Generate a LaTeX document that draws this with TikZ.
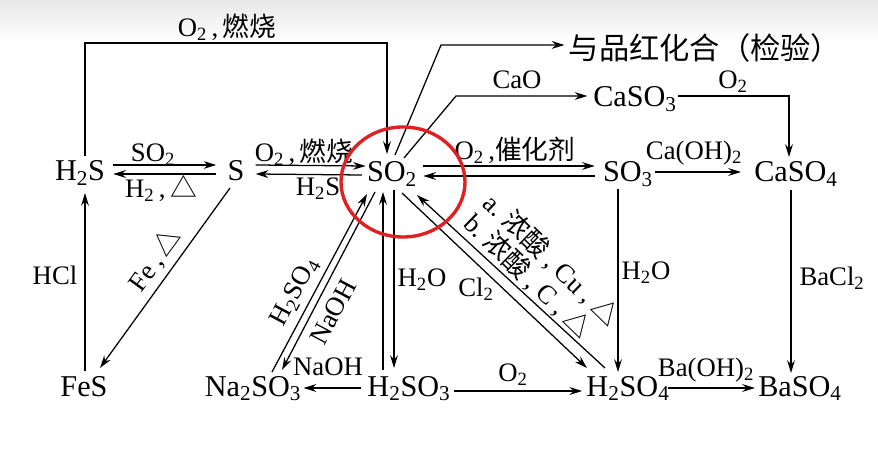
\documentclass[tikz,border=0pt]{standalone}
\usepackage{fontspec}
\setmainfont{Liberation Serif}
\newfontfamily\cjk{Noto Sans CJK SC}
\usetikzlibrary{arrows.meta}

\newcommand{\zh}[1]{{\cjk #1}}
\newcommand{\chsub}[1]{\textsubscript{#1}}
\definecolor{ringred}{RGB}{222,34,34}

\begin{document}
\begin{tikzpicture}[
            x=0.025cm, y=-0.025cm,
            chem/.style={anchor=base, inner sep=0pt,
                         font=\fontsize{21.5pt}{24pt}\selectfont},
            lab/.style={inner sep=0pt, align=center,
                        font=\fontsize{19pt}{20pt}\selectfont},
            arr/.style={-{Stealth[length=9pt, width=5.5pt]}, line width=0.9pt},
            ring/.style={draw=ringred, line width=2.4pt}
        ]

        % background
        \fill[top color=black!9, bottom color=white] (0,0) rectangle (878,42);
        \useasboundingbox (0,0) rectangle (878,451);

        % Nodes
        \node[chem] (h2s) at (80,181) {H\chsub{2}S};
        \node[chem] (s) at (236,181) {S};
        \node[chem] (so2) at (392,182) {SO\chsub{2}};
        \node[chem] (so3) at (628,182) {SO\chsub{3}};
        \node[chem] (caso4) at (796,182) {CaSO\chsub{4}};
        \node[chem] (caso3) at (635,107) {CaSO\chsub{3}};
        \node[chem, anchor=center] (pinhong) at (705,48) {\zh{与品红化合（检验）}};
        \node[chem] (fes) at (84,396) {FeS};
        \node[chem] (na2so3) at (253,396) {Na\chsub{2}SO\chsub{3}};
        \node[chem] (h2so3) at (409,396) {H\chsub{2}SO\chsub{3}};
        \node[chem] (h2so4) at (628,396) {H\chsub{2}SO\chsub{4}};
        \node[chem] (baso4) at (800,396) {BaSO\chsub{4}};

        % Labels
        \node[lab] (lburn) at (227,27) {O\chsub{2}\,,\,\zh{燃烧}};
        \node[lab] (lso2) at (153,155) {SO\chsub{2}};
        \node[lab] (lh2) at (161,189) {H\chsub{2}\,,\,\zh{△}};
        \node[lab] (lburnb) at (304,152) {O\chsub{2}\,,\,\zh{燃烧}};
        \node[lab] (lh2s) at (318,189) {H\chsub{2}S};
        \node[lab] (lcat) at (515,150) {O\chsub{2}\,,\zh{催化剂}};
        \node[lab] (lcaoh) at (694,153) {Ca(OH)\chsub{2}};
        \node[lab] (lcao) at (517,80) {CaO};
        \node[lab] (lo2c) at (733,82) {O\chsub{2}};
        \node[lab] (lhcl) at (55,275) {HCl};
        \node[lab, rotate=54] (lfe) at (155,260) {Fe\,,\,\zh{△}};
        \node[lab, rotate=62] (lh2so4) at (295,292) {H\chsub{2}SO\chsub{4}};
        \node[lab, rotate=62] (lnaoh) at (333,312) {NaOH};
        \node[lab] (lnaohb) at (328,367) {NaOH};
        \node[lab] (lh2o) at (422,280) {H\chsub{2}O};
        \node[lab] (lcl2) at (476,289) {Cl\chsub{2}};
        \node[lab, rotate=-44, align=left] (lacid) at (542,270)
            {a.\ \zh{浓酸}\ ,\ Cu\ ,\ \zh{△}\\b.\ \zh{浓酸}\ ,\ C\ ,\ \zh{△}};
        \node[lab] (lh2ob) at (646,273) {H\chsub{2}O};
        \node[lab] (lbacl) at (832,278) {BaCl\chsub{2}};
        \node[lab] (lo2b) at (513,375) {O\chsub{2}};
        \node[lab] (lbaoh) at (706,370) {Ba(OH)\chsub{2}};

        % H2S burning to SO2
        \coordinate (loop) at (387,43);
        \draw[arr] ([shift={(5,-25)}]h2s.base) |- (loop) -- ([shift={(-5,-28)}]so2.base);

        % top row
        \draw[arr] ([shift={(8,-16)}]h2s.base east) -- ([shift={(-11,-16)}]s.base west);
        \draw[arr] ([shift={(-11,-7)}]s.base west) -- ([shift={(8,-7)}]h2s.base east);
        \draw[arr] ([shift={(11,-16)}]s.base east) -- ([shift={(-1,-16)}]so2.base west);
        \draw[arr] ([shift={(-5,-7)}]so2.base west) -- ([shift={(11,-7)}]s.base east);
        \draw[arr] ([shift={(6,-16)}]so2.base east) -- ([shift={(-8,-16)}]so3.base west);
        \draw[arr] ([shift={(-8,-6)}]so3.base west) -- ([shift={(6,-6)}]so2.base east);
        \draw[arr] ([shift={(2,-10)}]so3.base east) -- ([shift={(-13,-10)}]caso4.base west);

        % SO2 upwards
        \coordinate (kpin) at (441,45);
        \draw[arr, shorten >=3pt] ([shift={(3,-27)}]so2.base) -- (kpin) -- (kpin -| pinhong.west);
        \coordinate (kcao) at (456,96);
        \draw[arr, shorten >=4pt] ([shift={(12,-24)}]so2.base) -- (kcao) -- (kcao -| caso3.west);
        \draw[arr] ([shift={(1,-11)}]caso3.base east) -| ([shift={(-7,-25)}]caso4.base);

        % verticals
        \draw[arr] ([shift={(-10,7)}]so3.base) -- ([shift={(-10,-24)}]h2so4.base);
        \draw[arr] ([shift={(-5,8)}]caso4.base) -- ([shift={(-9,-23)}]baso4.base);
        \draw[arr] ([shift={(1,-25)}]fes.base) -- ([shift={(5,12)}]h2s.base);
        \draw[arr] ([shift={(-6,7)}]s.base) -- ([shift={(16,-28)}]fes.base);

        % SO2 and the sulfites
        \draw[arr] ([shift={(19,-24)}]na2so3.base) -- ([shift={(-25,12)}]so2.base);
        \draw[arr] ([shift={(-17,10)}]so2.base) -- ([shift={(29,-26)}]na2so3.base);
        \draw[arr] ([shift={(-26,-26)}]h2so3.base) -- ([shift={(-9,10)}]so2.base);
        \draw[arr] ([shift={(2,8)}]so2.base) -- ([shift={(-15,-28)}]h2so3.base);

        % bottom row
        \draw[arr] ([shift={(-6,-8)}]h2so3.base west) -- ([shift={(2,-8)}]na2so3.base east);
        \draw[arr] ([shift={(3,-5)}]h2so3.base east) -- ([shift={(-4,-5)}]h2so4.base west);
        \draw[arr] ([shift={(-2,-8)}]h2so4.base east) -- ([shift={(-3,-8)}]baso4.base west);

        % SO2 and sulfuric acid
        \draw[arr] ([shift={(-23,-28)}]h2so4.base) -- ([shift={(25,13)}]so2.base);
        \draw[arr] ([shift={(10,11)}]so2.base) -- ([shift={(-41,-28)}]h2so4.base);

        % highlight
        \draw[ring] (403,182) ellipse [x radius=62, y radius=55];

        \end{tikzpicture}
\end{document}
